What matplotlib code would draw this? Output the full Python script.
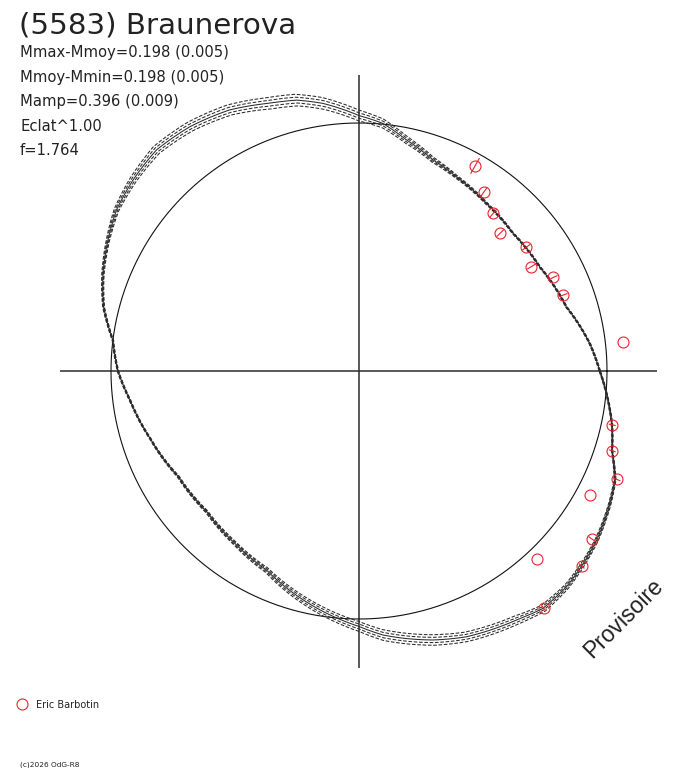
import numpy as np
import matplotlib
matplotlib.use("Agg")
import matplotlib.pyplot as plt

# ---------------- data ----------------
title = "(5583) Braunerova"
info_lines = ["Mmax-Mmoy=0.198 (0.005)", "Mmoy-Mmin=0.198 (0.005)",
              "Mamp=0.396 (0.009)", "Eclat^1.00", "f=1.764"]
observer = "Eric Barbotin"
copyright_txt = "(c)2026 OdG-R8"
watermark = "Provisoire"

# model curve: polar angle (deg) and radius (units of reference circle)
curve_angle = [0, 6.8, 17.2, 30, 41.8, 52.8, 63.4, 70.7, 78.4, 84.5, 90, 97.7,
               103, 108.4, 116.4, 124.7, 132.5, 139.8, 146.4, 152.4, 159.1,
               165.9, 172.9, 180, 187.2, 197.9, 210.3, 222.7, 233.6, 245.1,
               256.3, 270, 275.2, 285.4, 292, 302.3, 307.8, 313.9, 318.7,
               324.6, 332.2, 337.1, 342.5, 348, 360]
curve_radius = [0.971, 0.937, 0.875, 0.841, 0.833, 0.849, 0.876, 0.902, 0.951,
                1.003, 1.030, 1.089, 1.121, 1.138, 1.175, 1.198, 1.209, 1.193,
                1.174, 1.142, 1.105, 1.062, 1.000, 0.972, 0.931, 0.885, 0.844,
                0.836, 0.855, 0.885, 0.950, 1.030, 1.069, 1.125, 1.156, 1.188,
                1.211, 1.207, 1.194, 1.176, 1.144, 1.121, 1.070, 1.043, 0.971]
# spread of the family of solutions around the model curve
curve_spread = [0.003, 0.003, 0.003, 0.003, 0.003, 0.004, 0.006, 0.010, 0.014,
                0.018, 0.022, 0.024, 0.024, 0.024, 0.022, 0.020, 0.018, 0.014,
                0.010, 0.007, 0.005, 0.004, 0.003, 0.003, 0.003, 0.003, 0.004,
                0.005, 0.007, 0.010, 0.015, 0.020, 0.022, 0.022, 0.020, 0.018,
                0.014, 0.010, 0.008, 0.007, 0.005, 0.004, 0.003, 0.003, 0.003]
solution_offsets = [-1.0, -0.5, 0.0, 0.5, 1.0]

# observations (angle deg, radius, radial error)
obs_angle = [60.5, 55.1, 49.6, 44.3, 36.5, 31.2, 25.7, 20.4, 6.2, -12.0, -17.5,
             -22.8, -28.2, -35.8, -41.2, -46.6, -52.1]
obs_radius = [0.950, 0.882, 0.835, 0.796, 0.839, 0.813, 0.870, 0.879, 1.072,
              1.044, 1.071, 1.127, 1.057, 1.157, 1.194, 1.046, 1.213]
obs_error = [0.034, 0.020, 0.020, 0.018, 0.018, 0.018, 0.016, 0.016, 0.0,
             0.012, 0.012, 0.014, 0.0, 0.014, 0.012, 0.0, 0.012]

# ---------------- figure ----------------
W, H = 688, 768
CX, CY, R = 359, 371, 248
RMAX = 1.3
fig = plt.figure(figsize=(W / 100, H / 100), dpi=100)
fig.patch.set_facecolor("white")

ax = fig.add_axes([0, 0, 1, 1])
ax.set_xlim(-CX / R, (W - CX) / R)
ax.set_ylim(-(H - CY) / R, CY / R)
ax.axis("off")

pr = RMAX * R
pax = fig.add_axes([(CX - pr) / W, (H - CY - pr) / H, 2 * pr / W, 2 * pr / H],
                   projection="polar")
pax.set_ylim(0, RMAX)
pax.set_facecolor("none")
pax.grid(False)
pax.set_xticks([])
pax.set_yticks([])
pax.spines["polar"].set_visible(False)

dark = "#2b2b2b"
red = "#e8242c"
sans = ['DejaVu Sans']

# axes cross
ax.plot([-1.206, 1.202], [0, 0], color=dark, lw=1.1, solid_capstyle="butt")
ax.plot([0, 0], [-1.198, 1.194], color=dark, lw=1.1, solid_capstyle="butt")

# reference circle
t = np.linspace(0, 2 * np.pi, 400)
ax.plot(np.cos(t), np.sin(t), color="#111111", lw=0.8)

# family of model curves (drawn in polar space, interpolated by the projection)
ang = np.radians(curve_angle)
rad = np.array(curve_radius)
spr = np.array(curve_spread)
for off in solution_offsets:
    r = rad + off * spr
    ls = "-" if off == 0.0 else (0, (3.5, 1.6))
    ln, = pax.plot(ang, r, color=dark, lw=0.75, ls=ls)
    ln.get_path()._interpolation_steps = 12

# observations with radial error bars
oa = np.radians(obs_angle)
orr = np.array(obs_radius)
oe = np.array(obs_error)
for a, r, e in zip(oa, orr, oe):
    if e > 0:
        pax.plot([a, a], [r - e, r + e], color=red, lw=0.8)
pax.plot(oa, orr, "o", ms=7.9, mfc="none", mec=red, mew=0.8, ls="none")

# texts
def fx(x):
    return x / W

def fy(y):
    return 1 - y / H

fig.text(fx(19), fy(33.5), title, fontsize=21.2, color="#222222",
         va="baseline", family=sans)
for i, line in enumerate(info_lines):
    fig.text(fx(20), fy(57.3 + 24.5 * i), line, fontsize=10.6,
             color="#222222", va="baseline", family=sans)

fig.text(fx(624), fy(618), watermark, fontsize=16.5, color="#222222",
         rotation=45, ha="center", va="center", rotation_mode="anchor",
         family=['Liberation Sans'])

# legend
ax.plot([(22 - CX) / R], [(CY - 704) / R], "o", ms=7.9, mfc="none", mec=red,
        mew=0.8)
fig.text(fx(36), fy(708.5), observer, fontsize=7, color="#222222",
         va="baseline", family=sans)
fig.text(fx(20), fy(766), copyright_txt, fontsize=5.3, color="#222222",
         va="baseline", family=sans)

fig.savefig("out.png", dpi=100, facecolor="white")
